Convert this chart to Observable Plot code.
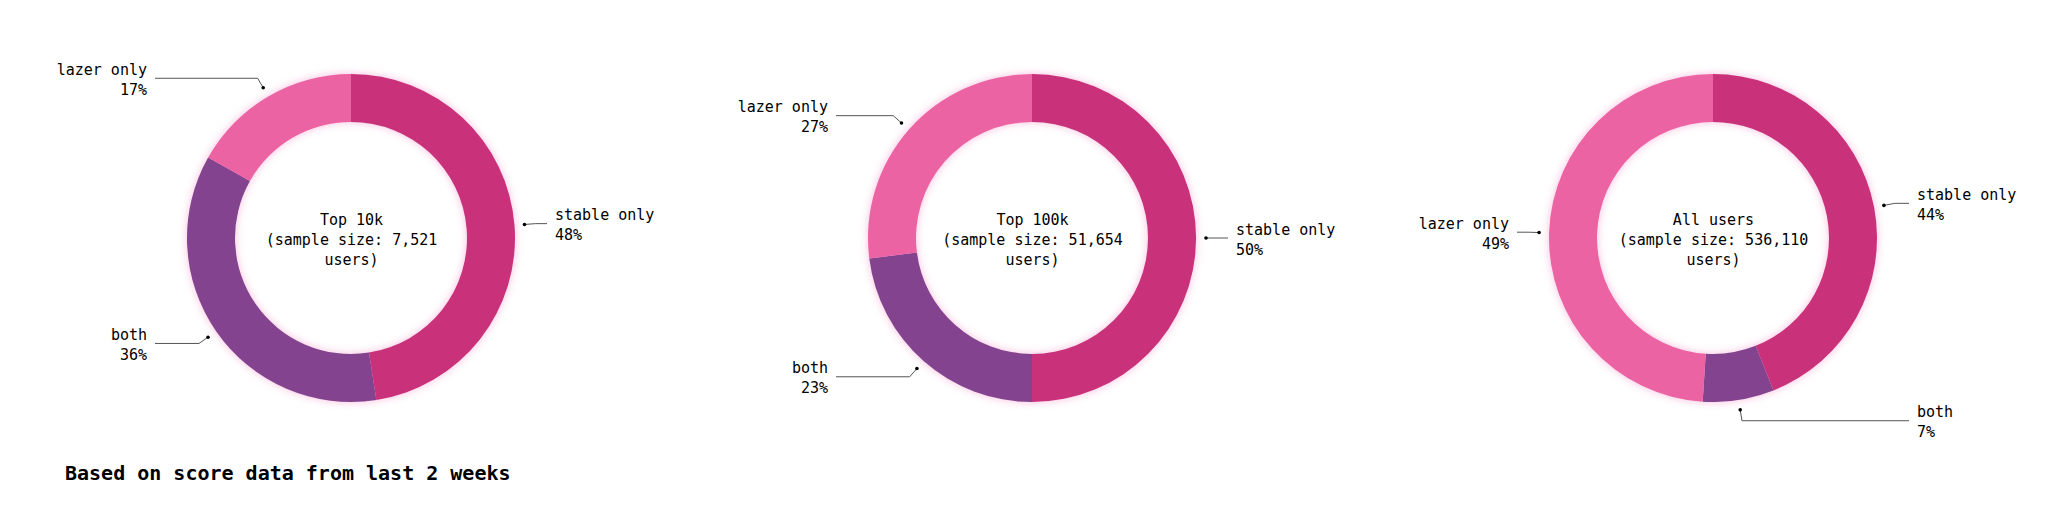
<!DOCTYPE html>
<html>
<head>
<meta charset="utf-8">
<script src="https://cdn.jsdelivr.net/npm/d3@7"></script>
<script src="https://cdn.jsdelivr.net/npm/@observablehq/plot@0.6"></script>
<style>
  body { margin: 0; background: #fff; }
  #caption {
    font: bold 20px/20px "DejaVu Sans Mono", monospace;
    color: #000;
    margin: 3px 0 0 65px;
  }
</style>
</head>
<body>
<div id="chart"></div>
<div id="caption">Based on score data from last 2 weeks</div>
<script>
// ---- data ----
const groups = ["Top 10k", "Top 100k", "All users"];
const sampleSizes = [7521, 51654, 536110];
const categories = ["stable only", "both", "lazer only"];
const stableOnly = [48, 50, 44];
const both = [36, 23, 7];
const lazerOnly = [17, 27, 49];
const colors = ["#C9317A", "#83438E", "#EC63A4"];

const series = [stableOnly, both, lazerOnly];
const fmt = d3.format(",");
const centerRows = groups.map((g, i) => ({
  group: g,
  title: `${g}\n(sample size: ${fmt(sampleSizes[i])}\nusers)`
}));

const FONT = '"DejaVu Sans Mono", monospace';
const R_OUT = 164, R_IN = 116, R_DOT = 174, R_ELBOW = 185, LINE_END = 196, TEXT_X = 204;

function donuts(index, scales, values, dimensions) {
  const x = scales.x;
  const cy = (dimensions.marginTop + dimensions.height - dimensions.marginBottom) / 2;
  const root = d3.create("svg:g");
  const pie = d3.pie().sort(null).value(d => d.value);
  const arc = d3.arc().innerRadius(R_IN).outerRadius(R_OUT);
  groups.forEach((grp, i) => {
    const cx = x(grp);
    const slices = categories.map((c, j) => ({category: c, value: series[j][i], color: colors[j]}));
    const arcs = pie(slices);
    const g = root.append("g").attr("transform", `translate(${cx},${cy})`);
    g.append("g")
      .style("filter", "drop-shadow(0 0 4px rgba(240, 110, 180, 0.45))")
      .selectAll("path").data(arcs).join("path")
      .attr("d", arc)
      .attr("fill", d => d.data.color);
    arcs.forEach(a => {
      const mid = (a.startAngle + a.endAngle) / 2;
      const sx = Math.sin(mid), sy = -Math.cos(mid);
      const right = sx > 0;
      const dot = [sx * R_DOT, sy * R_DOT];
      const elbow = [sx * R_ELBOW, sy * R_ELBOW];
      const endX = right ? LINE_END : -LINE_END;
      g.append("polyline")
        .attr("points", [dot, elbow, [endX, elbow[1]]].map(p => p.join(",")).join(" "))
        .attr("fill", "none")
        .attr("stroke", "#555")
        .attr("stroke-width", 1);
      g.append("circle")
        .attr("cx", dot[0]).attr("cy", dot[1]).attr("r", 1.8)
        .attr("fill", "#000");
      const tx = right ? TEXT_X : -TEXT_X;
      const t = g.append("text")
        .attr("text-anchor", right ? "start" : "end")
        .attr("font-family", FONT)
        .attr("font-size", 15)
        .attr("fill", "#000");
      t.append("tspan").attr("x", tx).attr("y", elbow[1] - 3.3).text(a.data.category);
      t.append("tspan").attr("x", tx).attr("y", elbow[1] + 16.7).text(`${a.data.value}%`);
    });
  });
  return root.node();
}

const chart = Plot.plot({
  width: 2054,
  height: 460,
  marginTop: 16,
  marginBottom: 0,
  marginLeft: 10,
  marginRight: 0,
  style: {fontFamily: FONT, fontSize: "15px", background: "#fff"},
  x: {type: "point", domain: groups, padding: 0.5, axis: null},
  marks: [
    donuts,
    Plot.text(centerRows, {
      x: "group",
      text: "title",
      frameAnchor: "middle",
      lineHeight: 1.3333,
      fontSize: 15,
      fill: "#000"
    })
  ]
});
document.getElementById("chart").appendChild(chart);
</script>
</body>
</html>
